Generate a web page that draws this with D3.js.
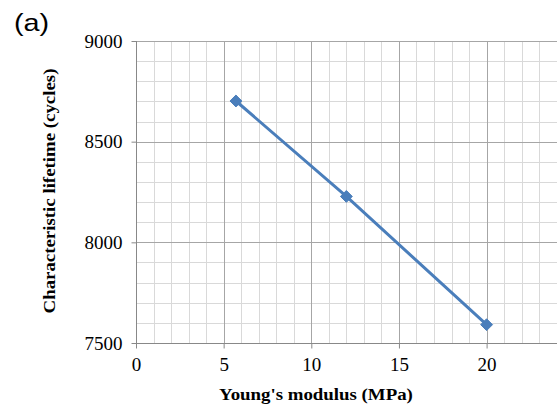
<!DOCTYPE html>
<html><head><meta charset="utf-8">
<script src="https://cdn.jsdelivr.net/npm/d3@7"></script>
<style>body{margin:0;background:#fff}svg{display:block}</style>
</head><body>
<svg id="c" width="557" height="410"></svg>
<script>
const modulus = [5.7, 12, 20];
const lifetime = [8702, 8228, 7591];
const xTicks = [0, 5, 10, 15, 20];
const yTicks = [7500, 8000, 8500, 9000];
const xTitle = "Young's modulus (MPa)";
const yTitle = "Characteristic lifetime (cycles)";
const panel = "(a)";

const svg = d3.select("#c");
const L = 136, T = 41, B = 343, R = 557;
const x = d3.scaleLinear().domain([0, 24]).range([L, L + 24 * 17.53]);
const y = d3.scaleLinear().domain([7500, 9000]).range([B, T]);
const serif = "'Liberation Serif', 'Times New Roman', serif";

const g = svg.append("g");
const xMinor = d3.range(1, 25).filter(v => v % 5 !== 0);
const yMinor = d3.range(7600, 9000, 100).filter(v => v % 500 !== 0);
g.selectAll(".vx").data(xMinor).join("line")
  .attr("x1", d => Math.round(x(d)) + 0.5).attr("x2", d => Math.round(x(d)) + 0.5)
  .attr("y1", T).attr("y2", B).attr("stroke", "#d9d9d9");
g.selectAll(".hy").data(yMinor).join("line")
  .attr("y1", d => Math.round(y(d)) + 0.5).attr("y2", d => Math.round(y(d)) + 0.5)
  .attr("x1", L).attr("x2", R).attr("stroke", "#d9d9d9");
g.selectAll(".vX").data(xTicks.filter(v => v > 0)).join("line")
  .attr("x1", d => Math.round(x(d)) + 0.5).attr("x2", d => Math.round(x(d)) + 0.5)
  .attr("y1", T).attr("y2", B).attr("stroke", "#a6a6a6");
g.selectAll(".hY").data(yTicks.filter(v => v > 7500)).join("line")
  .attr("y1", d => Math.round(y(d)) + 0.5).attr("y2", d => Math.round(y(d)) + 0.5)
  .attr("x1", L).attr("x2", R).attr("stroke", "#a6a6a6");

const xAxis = svg.append("g").attr("transform", `translate(0,${B + 0.5})`)
  .call(d3.axisBottom(x).tickValues(xTicks).tickSize(5).tickPadding(9).tickFormat(d3.format("d")));
const yAxis = svg.append("g").attr("transform", `translate(${L + 0.5},0)`)
  .call(d3.axisLeft(y).tickValues(yTicks).tickSize(5).tickPadding(9).tickFormat(d3.format("d")));
[xAxis, yAxis].forEach(a => {
  a.select(".domain").remove();
  a.selectAll(".tick line").attr("stroke", "#888");
  a.selectAll("text").attr("font-family", serif).attr("font-size", 19).attr("fill", "#000");
});
svg.append("line").attr("x1", L).attr("x2", R).attr("y1", B + 0.5).attr("y2", B + 0.5).attr("stroke", "#888");
svg.append("line").attr("x1", L + 0.5).attr("x2", L + 0.5).attr("y1", T).attr("y2", B).attr("stroke", "#888");

const pts = modulus.map((m, i) => [m, lifetime[i]]);
svg.append("path").datum(pts)
  .attr("d", d3.line().x(d => x(d[0])).y(d => y(d[1])))
  .attr("fill", "none").attr("stroke", "#4a7ebb").attr("stroke-width", 3);
svg.selectAll(".m").data(pts).join("path")
  .attr("transform", d => `translate(${x(d[0])},${y(d[1])})`)
  .attr("d", d3.symbol(d3.symbolDiamond2, 90))
  .attr("fill", "#4a7ebb").attr("stroke", "#4a7ebb");

svg.append("text").attr("transform", "translate(316,400) scale(1.11,1)").attr("text-anchor", "middle")
  .attr("font-family", serif).attr("font-weight", "bold").attr("font-size", 17).text(xTitle);
svg.append("text").attr("transform", "translate(55,191) rotate(-90) scale(1.11,1)").attr("text-anchor", "middle")
  .attr("font-family", serif).attr("font-weight", "bold").attr("font-size", 17).text(yTitle);
svg.append("text").attr("transform", "translate(14,31) scale(1.2,1)")
  .attr("font-family", "'Liberation Sans', Arial, sans-serif").attr("font-size", 24).text(panel);
</script>
</body></html>
